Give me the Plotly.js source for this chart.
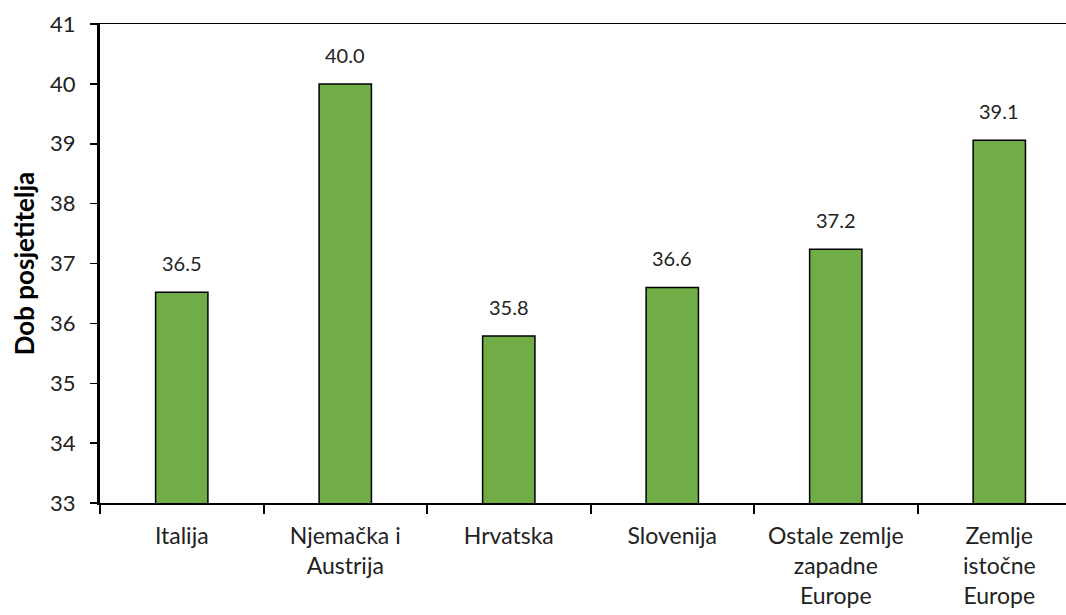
<!DOCTYPE html>
<html>
<head>
<meta charset="utf-8">
<script src="https://cdn.plot.ly/plotly-3.0.1.min.js"></script>
<style>html,body{margin:0;padding:0;background:#fff;overflow:hidden;}</style>
</head>
<body>
<div id="chart" style="width:1066px;height:615px;"></div>
<script>
var categories = ["Italija", "Njemačka i<br>Austrija", "Hrvatska", "Slovenija", "Ostale zemlje<br>zapadne<br>Europe", "Zemlje<br>istočne<br>Europe"];
var ages = [36.52, 40.0, 35.79, 36.6, 37.24, 39.06];
var yTitle = "Dob posjetitelja";

var FONT = "Lato, 'Open Sans', sans-serif";

var trace = {
  type: "bar",
  x: categories,
  y: ages,
  width: 0.32,
  marker: {color: "#70AD47", line: {color: "#000", width: 1.5}},
  hoverinfo: "none"
};

var annotations = categories.map(function (c, i) {
  return {
    x: c, y: ages[i], xref: "x", yref: "y",
    text: ages[i].toFixed(1),
    showarrow: false, yanchor: "bottom", yshift: 15,
    font: {family: FONT, size: 20, color: "#222"}
  };
});

var layout = {
  width: 1066, height: 615,
  margin: {l: 100, r: 0, t: 24, b: 112},
  paper_bgcolor: "#fff", plot_bgcolor: "#fff",
  showlegend: false,
  bargap: 0,
  xaxis: {
    type: "category",
    range: [-0.5, 5.408],
    showline: true, linecolor: "#000", linewidth: 1.5, mirror: true,
    ticks: "outside", tickson: "boundaries", ticklen: 9, tickwidth: 2, tickcolor: "#000",
    ticklabelstandoff: 12,
    showgrid: false, zeroline: false,
    tickfont: {family: FONT, size: 23, color: "#222"},
    fixedrange: true
  },
  yaxis: {
    range: [33, 41], dtick: 1,
    showline: true, linecolor: "#000", linewidth: 3,
    ticks: "outside", ticklen: 7, tickwidth: 1.5, tickcolor: "#000",
    ticklabelstandoff: 10,
    showgrid: false, zeroline: false,
    tickfont: {family: FONT, size: 22, color: "#222"},
    title: {text: yTitle, font: {family: FONT, size: 26, color: "#000", weight: "bold"}, standoff: 8},
    fixedrange: true
  },
  annotations: annotations
};

Plotly.newPlot("chart", [trace], layout, {displayModeBar: false, staticPlot: true});
</script>
</body>
</html>
